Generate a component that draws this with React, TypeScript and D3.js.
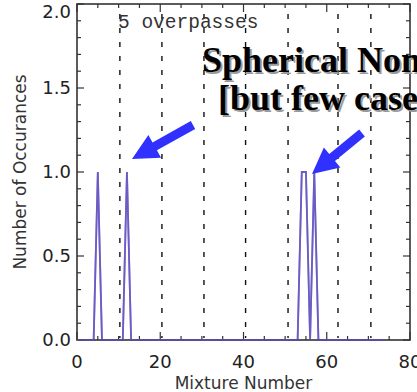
import React from "react";
import * as d3 from "d3";

const mixtureNumbers: number[] = d3.range(0, 75);
const occurrences: number[] = [
  0, 0, 0, 0, 0, 1, 0, 0, 0, 0,
  0, 0, 1, 0, 0, 0, 0, 0, 0, 0,
  0, 0, 0, 0, 0, 0, 0, 0, 0, 0,
  0, 0, 0, 0, 0, 0, 0, 0, 0, 0,
  0, 0, 0, 0, 0, 0, 0, 0, 0, 0,
  0, 0, 0, 0, 1, 1, 0, 1, 0, 0,
  0, 0, 0, 0, 0, 0, 0, 0, 0, 0,
  0, 0, 0, 0, 0,
];
const overpassBoundaries: number[] = [10.3, 20.4, 30.5, 40.5, 50.7, 62.7, 70.6];
const xTickLabels: number[] = [0, 20, 40, 60, 80];
const yTickLabels: number[] = [0, 0.5, 1.0, 1.5, 2.0];
const annotationTitle = "5 overpasses";
const calloutLines: string[] = ["Spherical Non", "[but few cases]"];

const W = 417;
const H = 392;
const M = { left: 77, right: 410, top: 4, bottom: 340 };

function arrowPath(x1: number, y1: number, x2: number, y2: number) {
  const dx = x2 - x1;
  const dy = y2 - y1;
  const len = Math.hypot(dx, dy);
  const ux = dx / len, uy = dy / len;
  const px = -uy, py = ux;
  const sw = 4.5, hl = 26, hw = 13;
  const bx = x2 - ux * hl, by = y2 - uy * hl;
  const pts = [
    [x1 + px * sw, y1 + py * sw],
    [bx + px * sw, by + py * sw],
    [bx + px * hw, by + py * hw],
    [x2, y2],
    [bx - px * hw, by - py * hw],
    [bx - px * sw, by - py * sw],
    [x1 - px * sw, y1 - py * sw],
  ];
  return "M" + pts.map((p) => p.join(",")).join("L") + "Z";
}

export default function App() {
  const x = d3.scaleLinear().domain([0, 80]).range([M.left, M.right]);
  const y = d3.scaleLinear().domain([0, 2]).range([M.bottom, M.top]);
  const line = d3
    .line<number>()
    .x((_, i) => x(mixtureNumbers[i]))
    .y((d) => y(d));

  const xMinor = d3.range(0, 81, 5);
  const yMinor = d3.range(0, 2.001, 0.1);
  const axisColor = "#333";
  const tickFont = "DejaVu Sans, sans-serif";

  return (
    <svg
      width={W}
      height={H}
      style={{ position: "absolute", left: 0, top: 0, background: "#fff", overflow: "hidden" }}
    >
      <rect x={0} y={0} width={W} height={H} fill="#fff" />
      {/* overpass dashed boundaries */}
      {overpassBoundaries.map((b, i) => (
        <line
          key={"d" + i}
          x1={x(b)}
          x2={x(b)}
          y1={M.top + 10}
          y2={M.bottom - 2}
          stroke="#111"
          strokeWidth={1.4}
          strokeDasharray="5,9"
        />
      ))}
      {/* data line */}
      <path d={line(occurrences) || ""} fill="none" stroke="#6a5cc4" strokeWidth={1.8} strokeLinejoin="miter" />
      {/* frame */}
      <rect
        x={M.left}
        y={M.top}
        width={M.right - M.left}
        height={M.bottom - M.top}
        fill="none"
        stroke={axisColor}
        strokeWidth={1.6}
      />
      {/* x ticks */}
      {xMinor.map((t) => {
        const major = t % 20 === 0;
        const l = major ? 8 : 4;
        return (
          <g key={"xt" + t}>
            <line x1={x(t)} x2={x(t)} y1={M.bottom} y2={M.bottom - l} stroke={axisColor} strokeWidth={1.2} />
            <line x1={x(t)} x2={x(t)} y1={M.top} y2={M.top + l} stroke={axisColor} strokeWidth={1.2} />
          </g>
        );
      })}
      {/* y ticks */}
      {yMinor.map((t, i) => {
        const major = i % 5 === 0;
        const l = major ? 7 : 4;
        return (
          <g key={"yt" + i}>
            <line x1={M.left} x2={M.left + l} y1={y(t)} y2={y(t)} stroke={axisColor} strokeWidth={1.2} />
            <line x1={M.right} x2={M.right - l} y1={y(t)} y2={y(t)} stroke={axisColor} strokeWidth={1.2} />
          </g>
        );
      })}
      {/* baseline data overlay */}
      <path d={line(occurrences) || ""} fill="none" stroke="#6a5cc4" strokeWidth={1.8} strokeOpacity={0.6} />
      {/* tick labels */}
      {xTickLabels.map((t) => (
        <text key={"xl" + t} x={x(t)} y={368} textAnchor="middle" fontFamily={tickFont} fontSize={18} fill="#222">
          {t}
        </text>
      ))}
      {yTickLabels.map((t) => (
        <text
          key={"yl" + t}
          x={71}
          y={Math.max(y(t), 12)}
          dy="0.36em"
          textAnchor="end"
          fontFamily={tickFont}
          fontSize={18}
          fill="#222"
        >
          {t.toFixed(1)}
        </text>
      ))}
      {/* axis titles */}
      <text x={(M.left + M.right) / 2} y={389} textAnchor="middle" fontFamily={tickFont} fontSize={17} fill="#333">
        Mixture Number
      </text>
      <text
        transform={`translate(26,${(M.top + M.bottom) / 2}) rotate(-90)`}
        textAnchor="middle"
        fontFamily={tickFont}
        fontSize={17}
        fill="#333"
      >
        Number of Occurances
      </text>
      {/* annotation */}
      <text x={118} y={28} fontFamily="Liberation Mono, monospace" fontSize={19.5} fill="#333">
        {annotationTitle}
      </text>
      {/* callout text with shadow */}
      {calloutLines.map((s, i) => (
        <g key={"c" + i} fontFamily="Liberation Serif, Times New Roman, serif" fontWeight="bold" fontSize={36}>
          <text x={(i === 0 ? 202 : 218) + 2} y={(i === 0 ? 72 : 110) + 2} fill="#9a9a9a">
            {s}
          </text>
          <text x={i === 0 ? 202 : 218} y={i === 0 ? 72 : 110} fill="#000">
            {s}
          </text>
        </g>
      ))}
      {/* arrows */}
      <path d={arrowPath(193, 125, 132, 159)} fill="#3030ff" />
      <path d={arrowPath(362, 133, 312, 174)} fill="#3030ff" />
    </svg>
  );
}
